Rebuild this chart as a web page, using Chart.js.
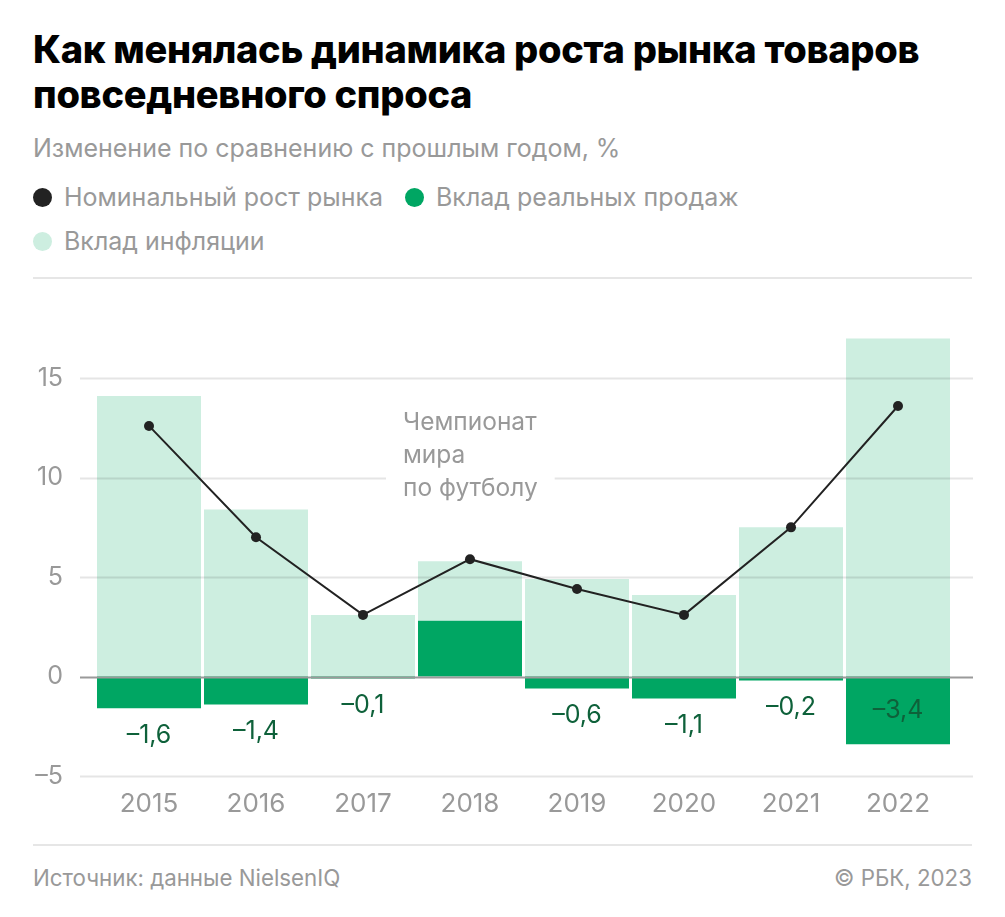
<!DOCTYPE html>
<html lang="ru">
<head>
<meta charset="utf-8">
<script src="https://cdn.jsdelivr.net/npm/chart.js@4.4.1/dist/chart.umd.min.js"></script>
<style>
  html, body { margin: 0; padding: 0; background: #fff; }
  body { width: 1005px; height: 917px; position: relative; font-family: Inter, "Noto Sans", sans-serif; overflow: hidden; }
  .title { position: absolute; left: 33px; top: 27px; font-size: 38px; font-weight: 800; line-height: 45px; color: #000; letter-spacing: -0.3px; white-space: nowrap; }
  .sub { position: absolute; left: 33px; top: 133px; font-size: 25px; color: #999; white-space: nowrap; }
  .leg { position: absolute; font-size: 25px; color: #999; display: flex; align-items: center; white-space: nowrap; }
  .leg i { display: inline-block; width: 19px; height: 19px; border-radius: 50%; margin-right: 12px; }
  .rule { position: absolute; left: 33px; width: 939px; height: 2px; background: #e6e6e6; }
  .foot { position: absolute; top: 864px; font-size: 22.3px; color: #999; white-space: nowrap; }
  #wrap { position: absolute; left: 0; top: 271px; width: 1005px; height: 559px; }
</style>
</head>
<body>
<div class="title">Как менялась динамика роста рынка товаров<br>повседневного спроса</div>
<div class="sub">Изменение по сравнению с прошлым годом, %</div>
<div class="leg" style="left:33px; top:182px;"><i style="background:#222"></i>Номинальный рост рынка</div>
<div class="leg" style="left:405px; top:182px;"><i style="background:#00a663"></i>Вклад реальных продаж</div>
<div class="leg" style="left:33px; top:226px;"><i style="background:#cdeee0"></i>Вклад инфляции</div>
<div id="wrap"><canvas id="chart"></canvas></div>
<div class="rule" style="top:277px;"></div>
<div class="rule" style="top:844px;"></div>
<div class="foot" style="left:33px;">Источник: данные NielsenIQ</div>
<div class="foot" style="right:33px;">© РБК, 2023</div>

<script>
// данные
const years = ["2015", "2016", "2017", "2018", "2019", "2020", "2021", "2022"];
const nominal = [12.6, 7.0, 3.1, 5.9, 4.4, 3.1, 7.5, 13.6];
const realSales = [-1.6, -1.4, -0.1, 2.8, -0.6, -1.1, -0.2, -3.4];
const inflation = [14.1, 8.4, 3.1, 3.0, 4.9, 4.1, 7.5, 17.0];
const yTicks = [-5, 0, 5, 10, 15];
const note = ["Чемпионат", "мира", "по футболу"];

const fmt = v => String(v).replace(".", ",").replace("-", "–");

// сетка поверх столбцов, но под линией
const gridPlugin = {
  id: "grid",
  beforeDatasetDraw(chart, args) {
    if (args.index !== 2) return;
    const ctx = chart.ctx;
    const y = chart.scales.y;
    ctx.save();
    yTicks.forEach(v => {
      const py = Math.round(y.getPixelForValue(v)) + 0.5;
      ctx.beginPath();
      ctx.strokeStyle = v === 0 ? "#9a9a9a" : "rgba(0,0,0,0.1)";
      ctx.lineWidth = 2;
      ctx.moveTo(80, py);
      ctx.lineTo(973, py);
      ctx.stroke();
    });
    // подпись про чемпионат
    const x0 = chart.scales.x.getPixelForValue(3) - 67;
    const y0 = y.getPixelForValue(12.75);
    ctx.font = "24.5px Inter";
    const w = Math.max(...note.map(t => ctx.measureText(t).width));
    ctx.fillStyle = "#fff";
    ctx.fillRect(x0 - 17, y0 - 20, w + 34, note.length * 33 + 8);
    ctx.fillStyle = "#999";
    ctx.textBaseline = "middle";
    ctx.textAlign = "left";
    note.forEach((t, i) => ctx.fillText(t, x0, y0 + i * 33));
    ctx.restore();
  }
};

// подписи вклада реальных продаж
const labelPlugin = {
  id: "labels",
  afterDatasetsDraw(chart) {
    const ctx = chart.ctx;
    const meta = chart.getDatasetMeta(0);
    ctx.save();
    ctx.font = "25px Inter";
    ctx.fillStyle = "#0e613a";
    ctx.textAlign = "center";
    ctx.textBaseline = "middle";
    meta.data.forEach((bar, i) => {
      const v = realSales[i];
      if (v >= 0) return;
      const h = Math.abs(bar.y - bar.base);
      const ty = h > 40 ? (bar.y + bar.base) / 2 : bar.y + 27;
      ctx.fillText(fmt(v), bar.x, ty);
    });
    ctx.restore();
  }
};

new Chart(document.getElementById("chart"), {
  data: {
    labels: years,
    datasets: [
      {
        type: "bar",
        label: "Вклад реальных продаж",
        data: realSales,
        backgroundColor: "#00a663",
        stack: "bars",
        order: 1,
        barPercentage: 1,
        categoryPercentage: 0.972
      },
      {
        type: "bar",
        label: "Вклад инфляции",
        data: inflation,
        backgroundColor: "#cdeee0",
        stack: "bars",
        order: 1,
        barPercentage: 1,
        categoryPercentage: 0.972
      },
      {
        type: "line",
        label: "Номинальный рост рынка",
        data: nominal,
        borderColor: "#222",
        borderWidth: 2,
        pointBackgroundColor: "#222",
        pointBorderWidth: 0,
        pointRadius: 5,
        stack: "line",
        order: 0
      }
    ]
  },
  options: {
    responsive: true,
    maintainAspectRatio: false,
    animation: false,
    layout: { padding: { top: 9.2, right: 53.5, bottom: 0, left: 0 } },
    plugins: { legend: { display: false }, tooltip: { enabled: false } },
    scales: {
      x: {
        stacked: true,
        grid: { display: false, drawTicks: false },
        border: { display: false },
        ticks: { color: "#999", font: { family: "Inter", size: 26 }, padding: 12.4, maxRotation: 0 },
        afterFit(scale) { scale.height = 54; }
      },
      y: {
        stacked: true,
        min: -5,
        max: 18,
        grid: { display: false, drawTicks: false },
        border: { display: false },
        afterBuildTicks(scale) { scale.ticks = yTicks.map(v => ({ value: v })); },
        afterFit(scale) { scale.width = 95.5; },
        ticks: { color: "#999", font: { family: "Inter", size: 25 }, padding: 32.5, callback: v => fmt(v) }
      }
    }
  },
  plugins: [gridPlugin, labelPlugin]
});
</script>
</body>
</html>
